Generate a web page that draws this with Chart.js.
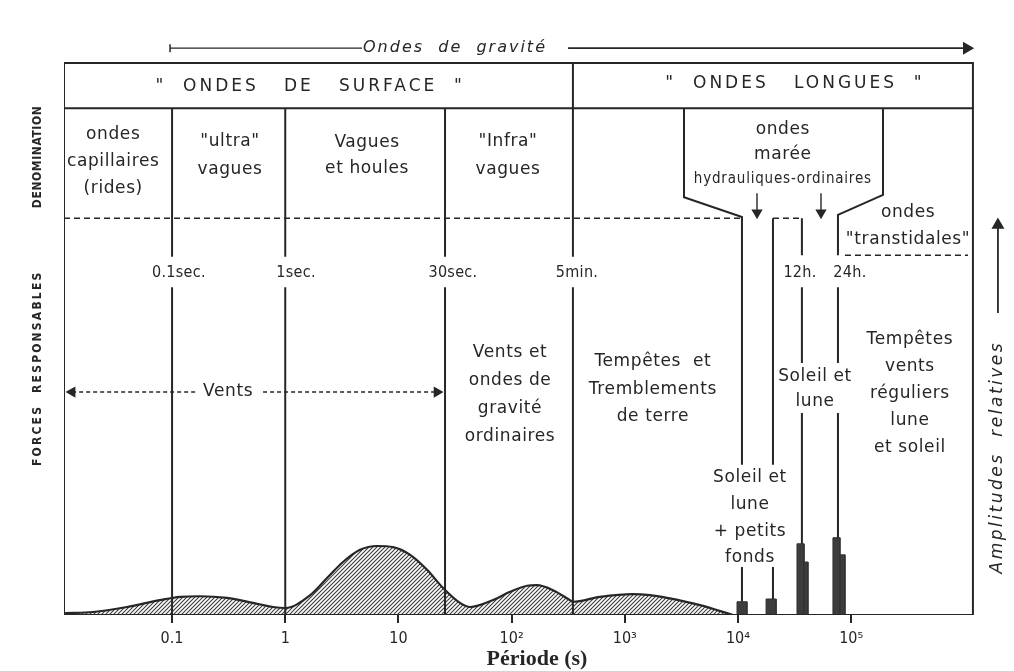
<!DOCTYPE html>
<html>
<head>
<meta charset="utf-8">
<script src="https://cdn.jsdelivr.net/npm/chart.js@4.4.1/dist/chart.umd.min.js"></script>
<style>
html, body { margin: 0; padding: 0; background: #fff; }
#wrap { width: 1014px; height: 671px; }
</style>
</head>
<body>
<div id="wrap"><canvas id="chart"></canvas></div>
<script>
var INK = '#262626';

// axis range (periods in s) and table rows (relative units, 0 = baseline, 100 = top of table)
var P_MIN = 0.0111, P_MAX = 2.53e6, FRAME_R = 1.19e6;
var Y_MAX = 107.8;
var TOP = 100, HEAD = 91.8, DASH = 71.9, GAP_HI = 64.9, GAP_LO = 59.4;

var tickValues = [0.1, 1, 10, 100, 1000, 10000, 100000];
var tickLabels = ['0.1', '1', '10', '10²', '10³', '10⁴', '10⁵'];

// energy spectrum (hatched area)
var curvePeriod = [0.01135, 0.02, 0.04, 0.078, 0.118, 0.177, 0.306, 0.52, 0.78, 1.0, 1.66, 2.34, 3.24, 4.58, 6.47, 8.96, 12.7, 17.9, 24.8, 35, 43, 68.5, 96.8, 137, 167, 232, 328, 348, 604, 1180, 1670, 2360, 4610, 9040];
var curveAmp    = [0.36, 0.54, 1.45, 2.7, 3.3, 3.4, 3.1, 2.2, 1.45, 1.27, 3.6, 6.7, 9.6, 11.8, 12.5, 12.3, 10.9, 8.2, 4.9, 2.2, 1.45, 2.7, 4.2, 5.3, 5.4, 4.5, 2.7, 2.4, 3.3, 3.8, 3.6, 3.1, 1.8, 0];

// tidal lines (solid bars)
var barStart = [9800, 17700, 33200, 38300, 69000, 79600];
var barEnd   = [12000, 21700, 38300, 41500, 79600, 88100];
var barAmp   = [2.4, 2.9, 12.9, 9.6, 14.0, 10.9];

// column boundaries: 0.1 s, 1 s, 30 s | 5 min
var surfaceBounds = [0.1, 1, 25.8];
var longBound = 348;

var solidPaths = [
  [[P_MIN, 0], [P_MIN, TOP], [FRAME_R, TOP], [FRAME_R, 0], [P_MIN, 0]],
  [[P_MIN, HEAD], [FRAME_R, HEAD]],
  [[longBound, TOP], [longBound, GAP_HI]],
  [[longBound, GAP_LO], [longBound, 0]],
  // "ondes marée / hydrauliques-ordinaires" funnel
  [[3334, HEAD], [3334, 75.7], [10840, 72.1], [10840, 27.2]],
  [[10840, 8.7], [10840, 2.4]],
  [[191000, HEAD], [191000, 76.1], [76400, 72.5], [76400, 65.2]],
  [[76400, GAP_LO], [76400, 45.65]],
  [[76400, 36.6], [76400, 14.0]],
  [[20370, 27.2], [20370, DASH]],
  [[20370, 8.7], [20370, 2.9]],
  [[36700, DASH], [36700, 65.2]],
  [[36700, GAP_LO], [36700, 45.65]],
  [[36700, 36.6], [36700, 12.9]]
];
surfaceBounds.forEach(function (b) {
  solidPaths.push([[b, HEAD], [b, GAP_HI]]);
  solidPaths.push([[b, GAP_LO], [b, 0]]);
});

var dashedPaths = [
  [[P_MIN, DASH], [10840, DASH]],
  [[20370, DASH], [36700, DASH]],
  [[88100, 65.2], [1.077e6, 65.2]]
];

var notes = [
  {t: '"  ONDES   DE   SURFACE  "', x: 1.66, y: 95.8, k: 'head'},
  {t: '"  ONDES   LONGUES  "', x: 31900, y: 96.2, k: 'head'},
  {t: 'ondes\ncapillaires\n(rides)', x: 0.0302, y: 82.2, k: 'body'},
  {t: '"ultra"\nvagues', x: 0.325, y: 83.3, k: 'body', lh: 28},
  {t: 'Vagues\net houles', x: 5.28, y: 83.3, k: 'body', lh: 26},
  {t: '"Infra"\nvagues', x: 92.9, y: 83.3, k: 'body', lh: 28},
  {t: 'ondes\nmarée', x: 24900, y: 85.6, k: 'body', lh: 25},
  {t: 'hydrauliques-ordinaires', x: 24900, y: 79.0, k: 'cond'},
  {t: 'ondes\n"transtidales"', x: 3.18e5, y: 70.4, k: 'body'},
  {t: '0.1sec.', x: 0.115, y: 62.0, k: 'time'},
  {t: '1sec.', x: 1.245, y: 62.0, k: 'time'},
  {t: '30sec.', x: 30.3, y: 62.0, k: 'time'},
  {t: '5min.', x: 378, y: 62.0, k: 'time'},
  {t: '12h.', x: 35300, y: 62.0, k: 'time'},
  {t: '24h.', x: 97500, y: 62.0, k: 'time'},
  {t: 'Vents', x: 0.313, y: 40.4, k: 'body'},
  {t: 'Vents et\nondes de\ngravité\nordinaires', x: 96.8, y: 40.0, k: 'body', lh: 28},
  {t: 'Tempêtes  et\nTremblements\nde terre', x: 1770, y: 40.9, k: 'body', lh: 27.5},
  {t: 'Soleil et\nlune', x: 47900, y: 40.85, k: 'body', lh: 25},
  {t: 'Tempêtes\nvents\nréguliers\nlune\net soleil', x: 3.3e5, y: 40.2, k: 'body'},
  {t: 'Soleil et\nlune\n+ petits\nfonds', x: 12760, y: 17.6, k: 'body', lh: 26.7},
  {t: 'Ondes  de  gravité', x: 31.6, y: 102.7, k: 'ital'},
  {t: 'DENOMINATION', x: 0.00655, y: 83.0, k: 'side'},
  {t: 'FORCES  RESPONSABLES', x: 0.00655, y: 44.7, k: 'side', ls: '2.2px'},
  {t: 'Amplitudes  relatives', x: 1.98e6, y: 28.6, k: 'amp'}
];

var styles = {
  head: {font: '17px "DejaVu Sans"', ls: '3px'},
  body: {font: '17px "DejaVu Sans"', ls: '0.6px', lh: 27},
  cond: {font: '15px "DejaVu Sans Condensed", "DejaVu Sans"', ls: '0.8px'},
  time: {font: '16px "DejaVu Sans Condensed", "DejaVu Sans"', ls: '0.3px'},
  ital: {font: 'oblique 16px "DejaVu Sans"', ls: '2px'},
  side: {font: 'bold 12px "DejaVu Sans Condensed", "DejaVu Sans"', ls: '0.6px', rot: -90},
  amp:  {font: 'oblique 17px "DejaVu Sans"', ls: '2.5px', rot: -90}
};

function joinPaths(paths) {
  var out = [];
  paths.forEach(function (p, k) {
    if (k) out.push({x: 1, y: null});
    p.forEach(function (q) { out.push({x: q[0], y: q[1]}); });
  });
  return out;
}

function hatch() {
  var c = document.createElement('canvas');
  c.width = 4; c.height = 4;
  var g = c.getContext('2d');
  g.fillStyle = '#fff';
  g.fillRect(0, 0, 4, 4);
  g.strokeStyle = '#3a3a3a';
  g.lineWidth = 1.1;
  g.beginPath();
  g.moveTo(0, 4); g.lineTo(4, 0);
  g.moveTo(-2, 2); g.lineTo(2, -2);
  g.moveTo(2, 6); g.lineTo(6, 2);
  g.stroke();
  return g.createPattern(c, 'repeat');
}

function arrow(path, rot, style, dash, width, size) {
  var pts = path.map(function (q) { return {x: q[0], y: q[1]}; });
  return {
    data: pts, borderColor: INK, borderWidth: width || 1.6, borderDash: dash || [],
    pointRadius: pts.map(function (p, i) { return i === pts.length - 1 ? (size || 5) : 0; }),
    pointStyle: style || 'triangle', pointRotation: rot,
    pointBackgroundColor: INK, pointBorderColor: INK, pointBorderWidth: 1.5,
    fill: false, tension: 0, clip: false, order: 0
  };
}

var tideData = [];
barStart.forEach(function (s, i) {
  tideData.push({x: s, y: 0}, {x: s, y: barAmp[i]}, {x: barEnd[i], y: barAmp[i]}, {x: barEnd[i], y: 0});
});

var notesPlugin = {
  id: 'notes',
  afterDatasetsDraw: function (chart) {
    var ctx = chart.ctx, xs = chart.scales.x, ys = chart.scales.y;
    notes.forEach(function (n) {
      var st = styles[n.k];
      var lines = n.t.split('\n');
      var lh = n.lh || st.lh || 27;
      ctx.save();
      ctx.translate(xs.getPixelForValue(n.x), ys.getPixelForValue(n.y));
      if (st.rot) ctx.rotate(st.rot * Math.PI / 180);
      ctx.font = st.font;
      ctx.letterSpacing = n.ls || st.ls || '0px';
      ctx.fillStyle = INK;
      ctx.textAlign = 'center';
      ctx.textBaseline = 'middle';
      lines.forEach(function (l, i) {
        ctx.fillText(l, 0, (i - (lines.length - 1) / 2) * lh);
      });
      ctx.restore();
    });
  }
};

new Chart(document.getElementById('chart'), {
  type: 'line',
  data: {
    datasets: [
      {
        data: curvePeriod.map(function (p, i) { return {x: p, y: curveAmp[i]}; }),
        borderColor: INK, borderWidth: 2.2, backgroundColor: hatch(), fill: 'origin',
        cubicInterpolationMode: 'monotone', pointRadius: 0, order: 5
      },
      {
        data: tideData, borderColor: '#333', borderWidth: 1, backgroundColor: '#3c3c3c',
        fill: 'origin', tension: 0, pointRadius: 0, order: 4
      },
      {
        data: joinPaths(solidPaths), borderColor: INK, borderWidth: 2, fill: false,
        tension: 0, pointRadius: 0, spanGaps: false, order: 1
      },
      {
        data: joinPaths(dashedPaths), borderColor: INK, borderWidth: 1.5, borderDash: [6, 4],
        fill: false, tension: 0, pointRadius: 0, spanGaps: false, order: 1
      },
      arrow([[0.16, 40.4], [0.0131, 40.4]], -90, 'triangle', [4, 3], 1.4),
      arrow([[0.637, 40.4], [21.9, 40.4]], 90, 'triangle', [4, 3], 1.4),
      arrow([[4.77, 102.7], [0.096, 102.7]], 90, 'line', [], 1.4, 4),
      arrow([[315, 102.7], [1.05e6, 102.7]], 90, 'triangle', [], 1.6, 6),
      arrow([[1.98e6, 54.7], [1.98e6, 70.65]], 0, 'triangle', [], 1.8, 6),
      arrow([[14720, 76.4], [14720, 72.9]], 180, 'triangle', [], 1.4),
      arrow([[54100, 76.4], [54100, 72.9]], 180, 'triangle', [], 1.4)
    ]
  },
  options: {
    responsive: true,
    maintainAspectRatio: false,
    animation: false,
    events: [],
    layout: {autoPadding: false, padding: {left: 64, right: 4, top: 20, bottom: 0}},
    plugins: {legend: {display: false}, tooltip: {enabled: false}},
    scales: {
      x: {
        type: 'logarithmic', min: P_MIN, max: P_MAX, bounds: 'data',
        afterBuildTicks: function (axis) {
          axis.ticks = tickValues.map(function (v) { return {value: v}; });
        },
        afterFit: function (axis) { axis.height = 56; },
        ticks: {
          autoSkip: false, maxRotation: 0, padding: 8, color: INK,
          font: {family: '"DejaVu Sans Condensed", "DejaVu Sans"', size: 16, lineHeight: 1},
          callback: function (v, i) { return tickLabels[i]; }
        },
        grid: {drawOnChartArea: false, drawTicks: true, tickLength: 8, tickColor: INK, lineWidth: 2},
        border: {display: false},
        title: {
          display: true, text: 'Période (s)', color: INK,
          font: {family: '"Liberation Serif"', size: 22, weight: 'bold', lineHeight: 1},
          padding: {top: 0, bottom: 1}
        }
      },
      y: {display: false, min: 0, max: Y_MAX}
    }
  },
  plugins: [notesPlugin]
});
</script>
</body>
</html>
